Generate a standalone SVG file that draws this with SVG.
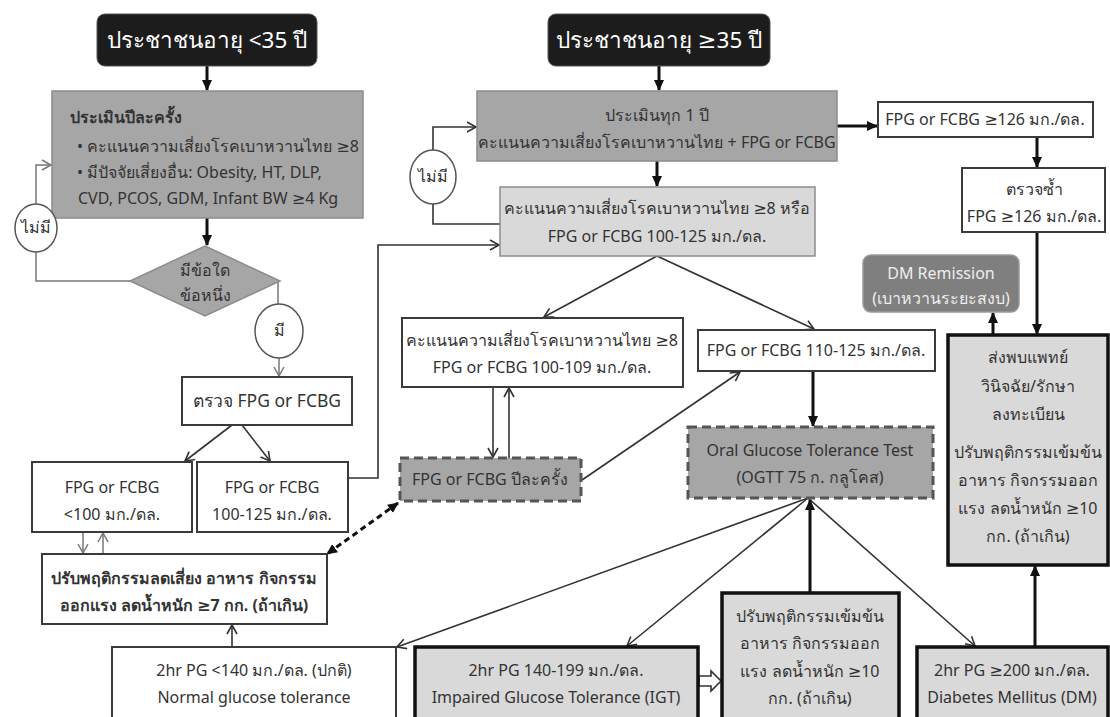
<svg xmlns="http://www.w3.org/2000/svg" width="1110" height="717" viewBox="0 0 1110 717">
<defs>
<style>
text{font-family:"Noto Sans","DejaVu Sans",sans-serif;font-size:16px;fill:#333333;text-anchor:middle}
.hd{font-size:22.5px;fill:#ffffff}
.b{font-weight:bold}
.l{text-anchor:start}
.blk{fill:#1c1c1c;stroke:#555;stroke-width:1}
.g1{fill:#a6a6a6;stroke:#8c8c8c;stroke-width:1.5}
.g2{fill:#d9d9d9;stroke:#8c8c8c;stroke-width:1.5}
.w{fill:#ffffff;stroke:#3a3a3a;stroke-width:2}
.tk{fill:#d9d9d9;stroke:#111;stroke-width:3.5}
.ds{fill:#a6a6a6;stroke:#555;stroke-width:3;stroke-dasharray:9 5}
.cir{fill:#fff;stroke:#555;stroke-width:1.5}
.thick{fill:none;stroke:#111;stroke-width:3;marker-end:url(#fa)}
.thin{fill:none;stroke:#333;stroke-width:1.6;marker-end:url(#oa)}
.thin0{fill:none;stroke:#333;stroke-width:1.6}
.grey{fill:none;stroke:#777;stroke-width:1.5;marker-end:url(#ga)}
.grey0{fill:none;stroke:#777;stroke-width:1.5}
</style>
<marker id="fa" markerUnits="userSpaceOnUse" markerWidth="12" markerHeight="12" refX="10" refY="6" orient="auto-start-reverse"><path d="M0,1 L11,6 L0,11 z" fill="#111"/></marker>
<marker id="oa" markerUnits="userSpaceOnUse" markerWidth="12" markerHeight="12" refX="10" refY="6" orient="auto-start-reverse"><path d="M1,1 L10,6 L1,11" fill="none" stroke="#333" stroke-width="1.6"/></marker>
<marker id="ga" markerUnits="userSpaceOnUse" markerWidth="12" markerHeight="12" refX="10" refY="6" orient="auto-start-reverse"><path d="M1,1 L10,6 L1,11" fill="none" stroke="#777" stroke-width="1.5"/></marker>
</defs>
<rect width="1110" height="717" fill="#ffffff"/>

<g id="connectors">
<path class="thick" d="M207,66 V90"/>
<path class="thick" d="M207,218 V245"/>
<path class="grey0" d="M130,281 H36 V252"/>
<path class="grey" d="M36,204 V165 H51"/>
<path class="grey0" d="M278,281 V304"/>
<path class="grey" d="M279,358 V376"/>
<path class="thin" d="M232,425 L185,461"/>
<path class="thin" d="M242,425 L270,461"/>
<path class="thin" d="M348,478 H378 V245 H499"/>
<path class="grey" d="M83,532 V553"/>
<path class="grey" d="M103,554 V533"/>
<path fill="none" stroke="#111" stroke-width="3" stroke-dasharray="6 4" marker-start="url(#fa)" marker-end="url(#fa)" d="M398,503 L327,554"/>
<path class="thin" d="M232,647 V625"/>
<path class="thick" d="M659,66 V90"/>
<path class="thick" d="M837,126 H877"/>
<path class="thick" d="M1037,137 V167"/>
<path class="thick" d="M657,161 V186"/>
<path class="thin0" d="M500,224 H433 V204"/>
<path class="thin" d="M433,150 V127 H476"/>
<path class="thin" d="M657,256 L544,317"/>
<path class="thin" d="M657,256 L814,329"/>
<path class="thin" d="M493,387 V457"/>
<path class="thin" d="M509,458 V388"/>
<path class="thin" d="M582,480 L740,372"/>
<path class="thick" d="M813,371 V426"/>
<path class="thin" d="M808,498 L397,647"/>
<path class="thin" d="M808,498 L627,646"/>
<path class="thin" d="M808,498 L975,646"/>
<path class="thick" d="M810,593 V500"/>
<path d="M699,676 H711 V671 L721,681 L711,691 V686 H699 z" fill="#fff" stroke="#333" stroke-width="1.6"/>
<path class="thick" d="M1035,647 V566"/>
<path class="thick" d="M1037,232 V334"/>
<path class="thick" d="M993,335 V313"/>
</g>

<g id="n_age_lt35"><rect class="blk" x="97" y="14" width="220" height="52" rx="8"/><text class="hd" x="207" y="48">ประชาชนอายุ &lt;35 ปี</text></g>
<g id="n_age_ge35"><rect class="blk" x="548" y="14" width="222" height="52" rx="8"/><text class="hd" x="659" y="48">ประชาชนอายุ ≥35 ปี</text></g>

<g id="n_assess_annual"><rect class="g1" x="52" y="91" width="311" height="127"/>
<text class="l b" x="70" y="123">ประเมินปีละครั้ง</text>
<text class="l" x="77" y="152">• คะแนนความเสี่ยงโรคเบาหวานไทย ≥8</text>
<text class="l" x="77" y="178">• มีปัจจัยเสี่ยงอื่น: Obesity, HT, DLP,</text>
<text class="l" x="78" y="204">CVD, PCOS, GDM, Infant BW ≥4 Kg</text></g>

<g id="n_decision"><polygon class="g1" points="205,246 280,281 205,316 130,281"/><text x="205" y="276">มีข้อใด</text><text x="205" y="301">ข้อหนึ่ง</text></g>
<g id="n_no1"><ellipse class="cir" cx="36" cy="228" rx="21" ry="24"/><text x="36" y="233">ไม่มี</text></g>
<g id="n_yes"><ellipse class="cir" cx="279" cy="331" rx="24" ry="27"/><text x="279" y="336">มี</text></g>
<g id="n_check"><rect class="w" x="182" y="377" width="170" height="48"/><text x="267" y="407" style="font-size:17.5px">ตรวจ FPG or FCBG</text></g>
<g id="n_lt100"><rect class="w" x="32" y="462" width="160" height="70"/><text x="112" y="493">FPG or FCBG</text><text x="112" y="520">&lt;100 มก./ดล.</text></g>
<g id="n_100_125"><rect class="w" x="197" y="462" width="151" height="70"/><text x="272" y="493">FPG or FCBG</text><text x="272" y="520">100-125 มก./ดล.</text></g>
<g id="n_lifestyle"><rect class="w" x="42" y="554" width="285" height="70"/><text class="b" x="184" y="584">ปรับพฤติกรรมลดเสี่ยง อาหาร กิจกรรม</text><text class="b" x="184" y="611">ออกแรง ลดน้ำหนัก ≥7 กก. (ถ้าเกิน)</text></g>
<g id="n_normal"><rect class="w" x="112" y="647" width="284" height="76"/><text x="254" y="676">2hr PG &lt;140 มก./ดล. (ปกติ)</text><text x="254" y="703">Normal glucose tolerance</text></g>

<g id="n_assess_every"><rect class="g1" x="477" y="91" width="360" height="70"/><text x="657" y="121">ประเมินทุก 1 ปี</text><text x="657" y="148">คะแนนความเสี่ยงโรคเบาหวานไทย + FPG or FCBG</text></g>
<g id="n_ge126"><rect class="w" x="878" y="102" width="215" height="35"/><text x="985" y="125">FPG or FCBG ≥126 มก./ดล.</text></g>
<g id="n_recheck"><rect class="w" x="962" y="168" width="143" height="64"/><text x="1034" y="195">ตรวจซ้ำ</text><text x="1034" y="222">FPG ≥126 มก./ดล.</text></g>
<g id="n_no2"><ellipse class="cir" cx="433" cy="177" rx="23" ry="27"/><text x="433" y="182">ไม่มี</text></g>
<g id="n_risk"><rect class="g2" x="500" y="187" width="315" height="69"/><text x="657" y="214">คะแนนความเสี่ยงโรคเบาหวานไทย ≥8 หรือ</text><text x="657" y="242">FPG or FCBG 100-125 มก./ดล.</text></g>
<g id="n_100_109"><rect class="w" x="402" y="318" width="281" height="69"/><text x="542" y="346">คะแนนความเสี่ยงโรคเบาหวานไทย ≥8</text><text x="542" y="373">FPG or FCBG 100-109 มก./ดล.</text></g>
<g id="n_110_125"><rect class="w" x="698" y="330" width="237" height="41"/><text x="816" y="356">FPG or FCBG 110-125 มก./ดล.</text></g>
<g id="n_yearly"><rect class="ds" x="400" y="458" width="181" height="43"/><text x="490" y="485">FPG or FCBG ปีละครั้ง</text></g>
<g id="n_ogtt"><rect class="ds" x="688" y="427" width="245" height="71"/><text x="810" y="456">Oral Glucose Tolerance Test</text><text x="810" y="483">(OGTT 75 ก. กลูโคส)</text></g>
<g id="n_igt"><rect class="tk" x="415" y="647" width="283" height="76"/><text x="556" y="676">2hr PG 140-199 มก./ดล.</text><text x="556" y="703">Impaired Glucose Tolerance (IGT)</text></g>
<g id="n_intensive"><rect class="tk" x="722" y="593" width="177" height="130"/><text x="810" y="622">ปรับพฤติกรรมเข้มข้น</text><text x="810" y="649">อาหาร กิจกรรมออก</text><text x="810" y="677">แรง ลดน้ำหนัก ≥10</text><text x="810" y="704">กก. (ถ้าเกิน)</text></g>
<g id="n_dm"><rect class="tk" x="917" y="647" width="191" height="76"/><text x="1012" y="676">2hr PG ≥200 มก./ดล.</text><text x="1012" y="703">Diabetes Mellitus (DM)</text></g>
<g id="n_refer"><rect class="tk" x="948" y="335" width="160" height="230"/>
<text x="1028" y="363">ส่งพบแพทย์</text><text x="1028" y="392">วินิจฉัย/รักษา</text><text x="1028" y="420">ลงทะเบียน</text>
<text x="1028" y="458">ปรับพฤติกรรมเข้มข้น</text><text x="1028" y="486">อาหาร กิจกรรมออก</text><text x="1028" y="514">แรง ลดน้ำหนัก ≥10</text><text x="1028" y="542">กก. (ถ้าเกิน)</text></g>
<g id="n_remission"><rect x="863" y="255" width="156" height="57" rx="8" fill="#7f7f7f" stroke="#9a9a9a" stroke-width="1.5"/><text x="941" y="279" style="fill:#eeeeee">DM Remission</text><text x="941" y="304" style="fill:#eeeeee">(เบาหวานระยะสงบ)</text></g>
</svg>
